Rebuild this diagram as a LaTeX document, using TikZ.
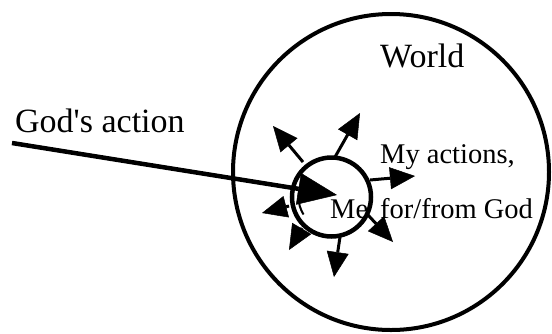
\documentclass[tikz,border=0pt]{standalone}
\usepackage{fontspec}
\setmainfont{Liberation Serif}[Ligatures=TeXOff]
\usetikzlibrary{arrows.meta}
\begin{document}
\begin{tikzpicture}[x=1pt,y=-1pt,
  bigtext/.style={font=\fontsize{34}{40}\selectfont, anchor=base west, inner sep=0pt},
  midtext/.style={font=\fontsize{28.5}{34}\selectfont, anchor=base west, inner sep=0pt},
  ring/.style={draw=black, line width=4pt},
  godarrow/.style={line width=4.5pt, -{Triangle[length=39pt,width=32pt,line width=0.5pt]}},
  actarrow/.style={line width=3pt, -{Triangle[length=25pt,width=22pt,line width=0.5pt]}}]
\useasboundingbox (0,0) rectangle (552,333);
% world
\coordinate (wc) at (391,172);
\draw[ring] (wc) circle[radius=158];
% God's action
\coordinate (gstart) at (12,143);
\coordinate (gtip) at (337,195);
\draw[godarrow] (gstart) -- (gtip);
% me
\coordinate (mc) at (331.5,197);
\draw[ring, line width=4.5pt] (mc) circle[radius=39.5];
\draw[line width=2pt] (mc) ++(148:33) arc[start angle=148, end angle=212, radius=33];
% my actions
\coordinate (a1s) at (303,162); \coordinate (a1t) at (273,126);
\coordinate (a2s) at (335,157); \coordinate (a2t) at (360,113);
\coordinate (a3s) at (370,180); \coordinate (a3t) at (415,176);
\coordinate (a4s) at (368,215); \coordinate (a4t) at (393,242);
\coordinate (a5s) at (340,237); \coordinate (a5t) at (334,277);
\coordinate (a6s) at (302,228); \coordinate (a6t) at (289,250);
\coordinate (a7s) at (289,206); \coordinate (a7t) at (262,213);
\foreach \i in {1,...,7} \draw[actarrow] (a\i s) -- (a\i t);
% texts
\node[bigtext] (god) at (15,132) {God's action};
\node[bigtext] (world) at (380,67) {World};
\node[midtext] (myact) at (380,163) {My actions,};
\node[midtext] (me) at (330,218) {Me};
\node[midtext] (forfrom) at (380,218) {for/from God};
\end{tikzpicture}
\end{document}
